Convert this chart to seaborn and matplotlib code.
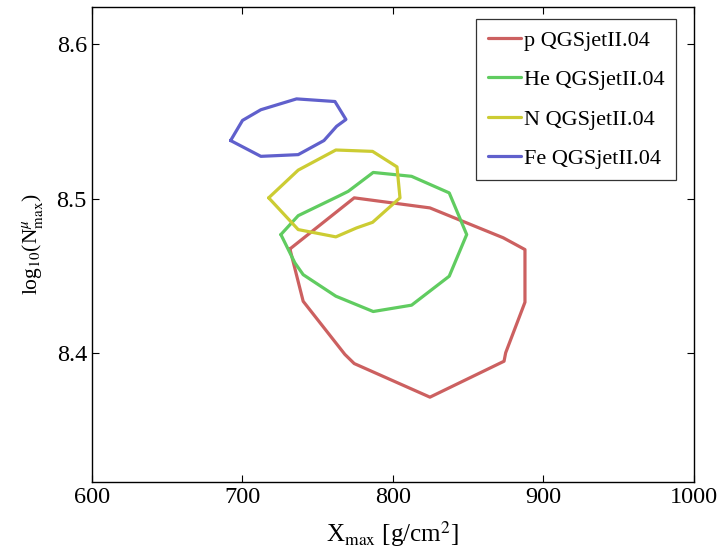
import numpy as np
import pandas as pd
import matplotlib
matplotlib.use("Agg")
import matplotlib.pyplot as plt
import seaborn as sns

# Contour vertices (Xmax [g/cm^2], log10 Nmu_max)
p_x = [731.6, 774.3, 824.6, 873.3, 887.7, 887.7, 874.9, 873.8, 824.6, 774.3, 768.1, 740.4]
p_y = [8.4675, 8.5005, 8.4940, 8.4747, 8.4671, 8.4331, 8.4005, 8.3950, 8.3718, 8.3935, 8.3994, 8.4337]

he_x = [725.6, 737.1, 763.7, 770.3, 786.9, 812.4, 837.4, 849.0, 837.4, 812.4, 786.9, 762.1, 740.4, 734.9]
he_y = [8.4768, 8.4890, 8.5015, 8.5047, 8.5169, 8.5144, 8.5037, 8.4768, 8.4499, 8.4312, 8.4271, 8.4370, 8.4509, 8.4585]

n_x = [717.5, 737.1, 762.1, 786.5, 802.7, 804.7, 786.5, 775.9, 762.1, 737.1]
n_y = [8.5005, 8.5184, 8.5314, 8.5305, 8.5205, 8.5005, 8.4847, 8.4811, 8.4753, 8.4800]

fe_x = [692.2, 700.1, 712.3, 736.0, 761.5, 768.8, 762.6, 754.2, 737.1, 712.3]
fe_y = [8.5375, 8.5505, 8.5574, 8.5644, 8.5627, 8.5511, 8.5467, 8.5375, 8.5284, 8.5273]

labels = ["p QGSjetII.04", "He QGSjetII.04", "N QGSjetII.04", "Fe QGSjetII.04"]
colors = ["#cc6060", "#60cc60", "#cccc33", "#6060cc"]

xticks = [600, 700, 800, 900, 1000]
yticks = [8.4, 8.5, 8.6]

series = [(p_x, p_y), (he_x, he_y), (n_x, n_y), (fe_x, fe_y)]
rows = []
for lab, (xs, ys) in zip(labels, series):
    xs_c = list(xs) + [xs[0]]
    ys_c = list(ys) + [ys[0]]
    for i, (a, b) in enumerate(zip(xs_c, ys_c)):
        rows.append({"Xmax": a, "logN": b, "model": lab, "order": i})
df = pd.DataFrame(rows)

sns.set_style("ticks")
plt.rcParams["font.family"] = ["Liberation Serif", "DejaVu Serif"]
plt.rcParams["mathtext.fontset"] = "stix"
plt.rcParams["text.color"] = "black"
plt.rcParams["axes.labelcolor"] = "black"

fig = plt.figure(figsize=(7.17, 5.49), dpi=100)
ax = fig.add_axes([0.128, 0.122, 0.840, 0.866])

sns.lineplot(data=df, x="Xmax", y="logN", hue="model", hue_order=labels,
             palette=colors, sort=False, estimator=None, units="model",
             linewidth=2.3, ax=ax)

ax.set_xlim(600, 1000)
ax.set_ylim(8.3170, 8.6240)
ax.set_xticks(xticks)
ax.set_yticks(yticks)
ax.set_xticklabels([str(t) for t in xticks])
ax.set_yticklabels([f"{t:.1f}" for t in yticks])
ax.tick_params(direction="in", length=5, width=0.8, top=True, right=True,
               labelsize=17.5, colors="black")
ax.tick_params(axis="x", pad=3.5)
ax.tick_params(axis="y", pad=3.5)
for s in ax.spines.values():
    s.set_linewidth(1.0)
    s.set_color("black")

ax.set_xlabel(r"X$_{\rm max}$ [g/cm$^2$]", fontsize=18, labelpad=8, color="black")
ax.set_ylabel(r"log$_{10}$(N$^{\mu}_{\rm max}$)", fontsize=15.5, labelpad=8, color="black")

leg = ax.legend(loc="upper right", fontsize=16, frameon=True, fancybox=False,
                edgecolor="black", handlelength=1.5, handletextpad=0.15,
                labelspacing=0.85, borderpad=0.5, borderaxespad=0,
                bbox_to_anchor=(676 / 717, 1 - 19 / 549),
                bbox_transform=fig.transFigure)
leg.get_frame().set_linewidth(0.9)
for t in leg.get_texts():
    t.set_color("black")
for h in leg.get_lines():
    h.set_linewidth(2.3)

fig.savefig("out.png", dpi=100)
